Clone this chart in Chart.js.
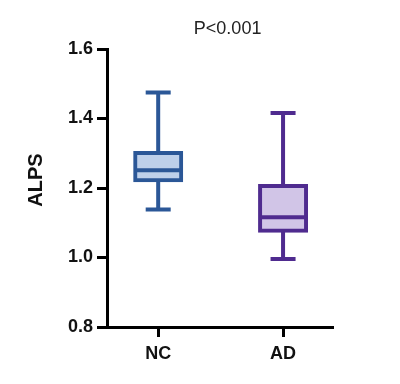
<!DOCTYPE html>
<html>
<head>
<meta charset="utf-8">
<script src="https://cdn.jsdelivr.net/npm/chart.js@4/dist/chart.umd.min.js"></script>
<style>
html,body{margin:0;padding:0;background:#fff;}
#wrap{width:400px;height:384px;}
</style>
</head>
<body>
<div id="wrap"><canvas id="c" width="400" height="384"></canvas></div>
<script>
// ---- data ----
const categories = ['NC', 'AD'];
const whiskerMin = [1.138, 0.996];
const quartile1  = [1.222, 1.077];
const medians    = [1.251, 1.116];
const quartile3  = [1.301, 1.206];
const whiskerMax = [1.475, 1.416];
const yTicks = [0.8, 1.0, 1.2, 1.4, 1.6];
const yTitle = 'ALPS';
const pValueText = 'P<0.001';

// ---- styles ----
const strokeColors = ['#2B5797', '#4F2B8F'];
const fillColors   = ['#BED0EA', '#D1C5E7'];
const FONT = "'Liberation Sans', Arial, Helvetica, sans-serif";
const BOX_W = 46, LINE_W = 4, CAP_W = 25;

const boxPlugin = {
  id: 'boxExtras',
  beforeDatasetsDraw(chart) {
    const {ctx, scales: {x, y}} = chart;
    ctx.save();
    ctx.lineWidth = LINE_W;
    ctx.lineCap = 'butt';
    categories.forEach((c, i) => {
      const px = x.getPixelForValue(i);
      ctx.strokeStyle = strokeColors[i];
      ctx.beginPath();
      ctx.moveTo(px, y.getPixelForValue(quartile3[i]));
      ctx.lineTo(px, y.getPixelForValue(whiskerMax[i]));
      ctx.moveTo(px, y.getPixelForValue(quartile1[i]));
      ctx.lineTo(px, y.getPixelForValue(whiskerMin[i]));
      ctx.moveTo(px - CAP_W / 2, y.getPixelForValue(whiskerMax[i]));
      ctx.lineTo(px + CAP_W / 2, y.getPixelForValue(whiskerMax[i]));
      ctx.moveTo(px - CAP_W / 2, y.getPixelForValue(whiskerMin[i]));
      ctx.lineTo(px + CAP_W / 2, y.getPixelForValue(whiskerMin[i]));
      ctx.stroke();
    });
    ctx.restore();
  },
  afterDatasetsDraw(chart) {
    const {ctx, scales: {x, y}, chartArea} = chart;
    ctx.save();
    ctx.lineWidth = LINE_W;
    categories.forEach((c, i) => {
      const px = x.getPixelForValue(i);
      const py = y.getPixelForValue(medians[i]);
      ctx.strokeStyle = strokeColors[i];
      ctx.beginPath();
      ctx.moveTo(px - BOX_W / 2, py);
      ctx.lineTo(px + BOX_W / 2, py);
      ctx.stroke();
    });
    // p-value label above the groups
    const mid = (x.getPixelForValue(0) + x.getPixelForValue(categories.length - 1)) / 2;
    ctx.fillStyle = '#222';
    ctx.font = '18px ' + FONT;
    ctx.textAlign = 'center';
    ctx.textBaseline = 'middle';
    ctx.fillText(pValueText, mid + 7, chartArea.top - 20);
    // y axis title
    ctx.fillStyle = '#111';
    ctx.font = 'bold 20px ' + FONT;
    ctx.translate(36, (chartArea.top + chartArea.bottom) / 2 - 8);
    ctx.rotate(-Math.PI / 2);
    ctx.fillText(yTitle, 0, 0);
    ctx.restore();
  }
};

new Chart(document.getElementById('c'), {
  type: 'bar',
  data: {
    datasets: [{
      data: categories.map((c, i) => ({x: i, y: [quartile1[i], quartile3[i]]})),
      backgroundColor: fillColors,
      borderColor: strokeColors,
      borderWidth: LINE_W,
      borderSkipped: false,
      inflateAmount: LINE_W / 2,
      barThickness: BOX_W
    }]
  },
  options: {
    responsive: false,
    animation: false,
    layout: {padding: {top: 49, right: 67, bottom: 0, left: 0}},
    plugins: {legend: {display: false}, tooltip: {enabled: false}},
    scales: {
      x: {
        type: 'linear',
        offset: false,
        min: -0.41,
        max: 1.40,
        afterBuildTicks: (s) => { s.ticks = categories.map((c, i) => ({value: i})); },
        afterFit: (s) => { s.height = 57; },
        grid: {offset: false, drawOnChartArea: false, drawTicks: true, tickLength: 10, tickWidth: 3, tickColor: '#000'},
        border: {display: true, color: '#000', width: 3},
        ticks: {
          padding: 6,
          color: '#111',
          font: {family: FONT, size: 18, weight: 'bold'},
          callback: (v) => categories[v] ?? ''
        }
      },
      y: {
        min: 0.8,
        max: 1.6,
        afterBuildTicks: (s) => { s.ticks = yTicks.map(v => ({value: v})); },
        afterFit: (s) => { s.width = 107; },
        grid: {drawOnChartArea: false, drawTicks: true, tickLength: 10, tickWidth: 3, tickColor: '#000'},
        border: {display: true, color: '#000', width: 3},
        ticks: {
          padding: 4,
          color: '#111',
          font: {family: FONT, size: 18, weight: 'bold'},
          callback: (v) => v.toFixed(1)
        }
      }
    }
  },
  plugins: [boxPlugin]
});
</script>
</body>
</html>
